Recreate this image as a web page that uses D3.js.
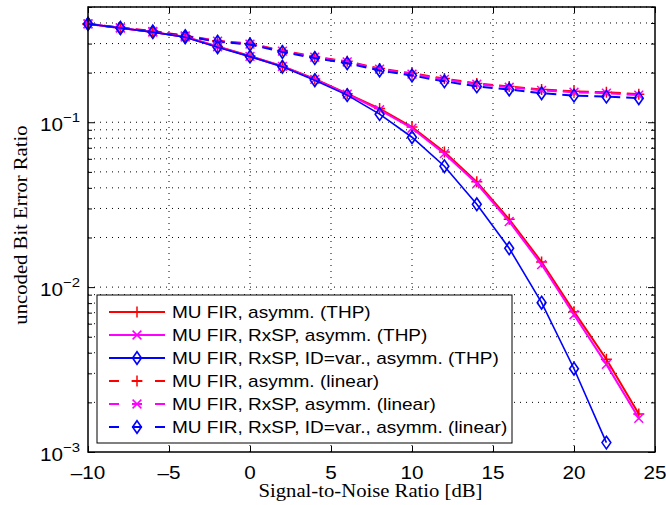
<!DOCTYPE html>
<html>
<head>
<meta charset="utf-8">
<script src="https://cdn.jsdelivr.net/npm/d3@7"></script>
<style>
  body { margin: 0; background: #fff; }
  svg { display: block; }
  .tick-label { font-family: "Liberation Sans", Arial, sans-serif; font-size: 18px; fill: #000; }
  .axis-title { font-family: "Liberation Serif", "Times New Roman", serif; font-size: 18px; fill: #000; }
  .legend-text { font-family: "Liberation Sans", Arial, sans-serif; font-size: 17px; fill: #000; }
</style>
</head>
<body>
<div id="chart"></div>
<script>
const snr = [-10, -8, -6, -4, -2, 0, 2, 4, 6, 8, 10, 12, 14, 16, 18, 20, 22, 24];

// THP
const firThp =      [0.395, 0.373, 0.352, 0.330, 0.288, 0.252, 0.219, 0.183, 0.149, 0.121, 0.0935, 0.0660, 0.0435, 0.0258, 0.0142, 0.0071, 0.00365, 0.00170];
const rxspThp =     [0.395, 0.373, 0.352, 0.329, 0.287, 0.251, 0.218, 0.182, 0.148, 0.119, 0.0920, 0.0645, 0.0425, 0.0250, 0.0137, 0.0068, 0.00340, 0.00160];
const rxspIdThp =   [0.395, 0.373, 0.352, 0.328, 0.285, 0.250, 0.217, 0.180, 0.146, 0.112, 0.0811, 0.0541, 0.0318, 0.0172, 0.00805, 0.0032, 0.00114, null];
// linear
const firLin =      [0.395, 0.375, 0.357, 0.335, 0.312, 0.300, 0.272, 0.250, 0.234, 0.212, 0.198, 0.184, 0.172, 0.165, 0.158, 0.154, 0.152, 0.148];
const rxspLin =     [0.395, 0.374, 0.356, 0.334, 0.310, 0.298, 0.270, 0.248, 0.232, 0.210, 0.196, 0.182, 0.170, 0.163, 0.156, 0.152, 0.150, 0.146];
const rxspIdLin =   [0.395, 0.373, 0.355, 0.333, 0.308, 0.296, 0.267, 0.245, 0.228, 0.206, 0.192, 0.177, 0.165, 0.158, 0.150, 0.145, 0.143, 0.140];

const xTicks = [-10, -5, 0, 5, 10, 15, 20, 25];
const yTicks = [1e-3, 1e-2, 1e-1];

const series = [
  { name: 'MU FIR, asymm. (THP)', values: firThp, color: '#ff0000', dash: null, marker: 'plus' },
  { name: 'MU FIR, RxSP, asymm. (THP)', values: rxspThp, color: '#ff00ff', dash: null, marker: 'cross' },
  { name: 'MU FIR, RxSP, ID=var., asymm. (THP)', values: rxspIdThp, color: '#0000ff', dash: null, marker: 'diamond' },
  { name: 'MU FIR, asymm. (linear)', values: firLin, color: '#ff0000', dash: '10,6', marker: 'plus' },
  { name: 'MU FIR, RxSP, asymm. (linear)', values: rxspLin, color: '#ff00ff', dash: '10,6', marker: 'cross' },
  { name: 'MU FIR, RxSP, ID=var., asymm. (linear)', values: rxspIdLin, color: '#0000ff', dash: '10,6', marker: 'diamond' }
];

const width = 666, height = 505;
const margin = { top: 7, right: 11, bottom: 53, left: 88 };
const iw = width - margin.left - margin.right;
const ih = height - margin.top - margin.bottom;
const stretch = 1.15; // text in the original is rendered wider

const svg = d3.select('#chart').append('svg')
  .attr('width', width)
  .attr('height', height);

const g = svg.append('g').attr('transform', `translate(${margin.left},${margin.top})`);

const x = d3.scaleLinear().domain([-10, 25]).range([0, iw]);
const y = d3.scaleLog().domain([1e-3, 0.5]).range([ih, 0]);

// minor log ticks
const minor = [];
[1e-3, 1e-2, 1e-1].forEach(dec => {
  for (let k = 2; k <= 9; k++) {
    const v = dec * k;
    if (v <= 0.5) minor.push(v);
  }
});

// grid
g.append('g').selectAll('line')
  .data(minor.concat(yTicks.slice(1)))
  .enter().append('line')
    .attr('x1', 0).attr('x2', iw)
    .attr('y1', d => y(d)).attr('y2', d => y(d))
    .attr('stroke', '#000')
    .attr('stroke-width', 1)
    .attr('stroke-dasharray', '1,5');

g.append('g').selectAll('line')
  .data(xTicks.slice(1, -1))
  .enter().append('line')
    .attr('x1', d => x(d)).attr('x2', d => x(d))
    .attr('y1', 0).attr('y2', ih)
    .attr('stroke', '#000')
    .attr('stroke-width', 1)
    .attr('stroke-dasharray', '1,5');

// axes with inward ticks
const xAxisB = d3.axisBottom(x).tickValues(xTicks).tickSizeInner(-6).tickSizeOuter(0).tickFormat('');
const xAxisT = d3.axisTop(x).tickValues(xTicks).tickSizeInner(-6).tickSizeOuter(0).tickFormat('');
const yAxisL = d3.axisLeft(y).tickValues(yTicks).tickSizeInner(-7).tickSizeOuter(0).tickFormat('');
const yAxisR = d3.axisRight(y).tickValues(yTicks).tickSizeInner(-7).tickSizeOuter(0).tickFormat('');
const yMinorL = d3.axisLeft(y).tickValues(minor).tickSizeInner(-4).tickSizeOuter(0).tickFormat('');
const yMinorR = d3.axisRight(y).tickValues(minor).tickSizeInner(-4).tickSizeOuter(0).tickFormat('');

g.append('g').attr('transform', `translate(0,${ih})`).call(xAxisB);
g.append('g').call(xAxisT);
g.append('g').call(yAxisL);
g.append('g').attr('transform', `translate(${iw},0)`).call(yAxisR);
g.append('g').call(yMinorL);
g.append('g').attr('transform', `translate(${iw},0)`).call(yMinorR);
g.selectAll('.domain').remove();
g.selectAll('.tick line').attr('stroke', '#000').attr('stroke-width', 1);

// x tick labels
g.append('g').selectAll('text')
  .data(xTicks)
  .enter().append('text')
    .attr('class', 'tick-label')
    .attr('transform', d => `translate(${x(d)},${ih + 27}) scale(${stretch},1)`)
    .attr('text-anchor', 'middle')
    .text(d => d < 0 ? '\u2013' + Math.abs(d) : d);

// y tick labels 10^n
const yl = g.append('g').selectAll('text')
  .data(yTicks)
  .enter().append('text')
    .attr('class', 'tick-label')
    .attr('transform', d => `translate(-8,${y(d) + 9}) scale(${stretch},1)`)
    .attr('text-anchor', 'end');
yl.append('tspan').text('10');
yl.append('tspan').attr('dy', -9).attr('font-size', 13).text(d => '\u2212' + Math.round(-Math.log10(d)));

// axis titles
svg.append('text')
  .attr('class', 'axis-title')
  .attr('transform', `translate(${margin.left + iw / 2 - 1},497) scale(${stretch},1)`)
  .attr('text-anchor', 'middle')
  .text('Signal-to-Noise Ratio [dB]');

svg.append('text')
  .attr('class', 'axis-title')
  .attr('transform', `translate(27,${225}) rotate(-90) scale(${stretch},1)`)
  .attr('text-anchor', 'middle')
  .text('uncoded Bit Error Ratio');

// markers
function drawMarker(sel, type, color, size) {
  const s = size / 2;
  if (type === 'plus') {
    sel.append('path').attr('d', `M${-s},0H${s}M0,${-s}V${s}`)
      .attr('stroke', color).attr('stroke-width', 1.5).attr('fill', 'none');
  } else if (type === 'cross') {
    const c = s * 0.8;
    sel.append('path').attr('d', `M${-c},${-c}L${c},${c}M${-c},${c}L${c},${-c}`)
      .attr('stroke', color).attr('stroke-width', 1.5).attr('fill', 'none');
  } else {
    sel.append('path').attr('d', `M0,${-s * 1.15}L${s * 0.8},0L0,${s * 1.15}L${-s * 0.8},0Z`)
      .attr('stroke', color).attr('stroke-width', 1.6).attr('fill', 'none');
  }
}

const plot = g.append('g');
const line = d3.line()
  .defined(d => d[1] != null)
  .x(d => x(d[0]))
  .y(d => y(d[1]));

// linear (dashed) first, THP on top, blue last within groups
const order = [3, 4, 5, 0, 1, 2];
order.forEach(i => {
  const s = series[i];
  const pts = snr.map((v, j) => [v, s.values[j]]);
  plot.append('path')
    .datum(pts)
    .attr('d', line)
    .attr('fill', 'none')
    .attr('stroke', s.color)
    .attr('stroke-width', i === 2 ? 1.6 : 2)
    .attr('stroke-dasharray', s.dash);
  plot.append('g').selectAll('g')
    .data(pts.filter(d => d[1] != null))
    .enter().append('g')
      .attr('transform', d => `translate(${x(d[0])},${y(d[1])})`)
      .each(function() { drawMarker(d3.select(this), s.marker, s.color, 11); });
});

// frame
g.append('rect')
  .attr('width', iw).attr('height', ih)
  .attr('fill', 'none')
  .attr('stroke', '#000')
  .attr('stroke-width', 1.5);

// legend
const lg = svg.append('g').attr('transform', 'translate(97,295)');
lg.append('rect')
  .attr('width', 415).attr('height', 148)
  .attr('fill', '#fff')
  .attr('stroke', '#000')
  .attr('stroke-width', 1);

series.forEach((s, i) => {
  const row = lg.append('g').attr('transform', `translate(0,${17 + i * 23})`);
  row.append('line')
    .attr('x1', 12).attr('x2', 68)
    .attr('y1', 0).attr('y2', 0)
    .attr('stroke', s.color)
    .attr('stroke-width', 2)
    .attr('stroke-dasharray', s.dash ? '10,13' : null);
  drawMarker(row.append('g').attr('transform', 'translate(40,0)'), s.marker, s.color, 11);
  row.append('text')
    .attr('class', 'legend-text')
    .attr('transform', `translate(75,6) scale(1.12,1)`)
    .text(s.name);
});
</script>
</body>
</html>
